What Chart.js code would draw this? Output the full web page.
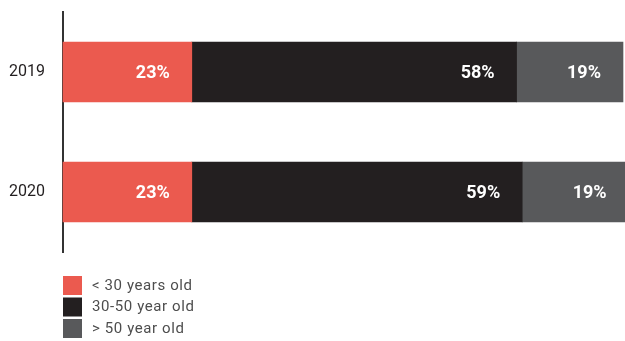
<!DOCTYPE html>
<html>
<head>
<meta charset="utf-8">
<script src="https://cdn.jsdelivr.net/npm/chart.js@4"></script>
<style>
  html,body{margin:0;padding:0;background:#fff;}
  #wrap{width:625px;height:341px;position:relative;}
</style>
</head>
<body>
<div id="wrap"><canvas id="chart"></canvas></div>
<script>
// Data
const years=['2019','2020'];
const under30=[23,23];
const mid30to50=[58,59];
const over50=[19,19];
const seriesNames=['< 30 years old','30-50 year old','> 50 year old'];
const seriesColors=['#EB5A4F','#231F20','#58595B'];

// Percent labels inside bars, right aligned near the bar end
const barLabels={
  id:'barLabels',
  afterDatasetsDraw(chart){
    const ctx=chart.ctx;
    ctx.save();
    ctx.font='bold 18px Roboto, sans-serif';
    ctx.fillStyle='#fff';
    ctx.textAlign='right';
    ctx.textBaseline='middle';
    chart.data.datasets.forEach((ds,i)=>{
      chart.getDatasetMeta(i).data.forEach((bar,j)=>{
        ctx.fillText(ds.data[j]+'%',bar.x-22,bar.y+1);
      });
    });
    ctx.restore();
  }
};

// Vertical legend bottom-left
const sideLegend={
  id:'sideLegend',
  afterDraw(chart){
    const ctx=chart.ctx;
    const x0=chart.chartArea.left;
    ctx.save();
    ctx.font='15px Roboto, sans-serif';
    ctx.letterSpacing='0.6px';
    ctx.textBaseline='middle';
    seriesNames.forEach((name,i)=>{
      const y=276+i*21.5;
      ctx.fillStyle=seriesColors[i];
      ctx.fillRect(x0,y,19,19);
      ctx.fillStyle='#4d4d4d';
      ctx.fillText(name,x0+29,y+10);
    });
    ctx.restore();
  }
};

new Chart(document.getElementById('chart'),{
  type:'bar',
  data:{
    labels:years,
    datasets:[
      {label:seriesNames[0],data:under30,backgroundColor:seriesColors[0]},
      {label:seriesNames[1],data:mid30to50,backgroundColor:seriesColors[1]},
      {label:seriesNames[2],data:over50,backgroundColor:seriesColors[2]}
    ].map(d=>Object.assign(d,{barThickness:60,borderWidth:0,clip:false}))
  },
  options:{
    indexAxis:'y',
    responsive:true,
    maintainAspectRatio:false,
    animation:false,
    layout:{padding:{top:12,bottom:89,right:2,left:0}},
    plugins:{legend:{display:false},tooltip:{enabled:false}},
    scales:{
      x:{stacked:true,min:0,max:100,display:false},
      y:{
        stacked:true,
        grid:{display:false,drawTicks:true,tickLength:18,tickColor:'rgba(0,0,0,0)'},
        border:{display:true,color:'#333',width:2},
        ticks:{color:'#231F20',padding:0,font:{family:'Roboto, sans-serif',size:16}},
        afterFit(scale){scale.width=63;}
      }
    }
  },
  plugins:[barLabels,sideLegend]
});
</script>
</body>
</html>
